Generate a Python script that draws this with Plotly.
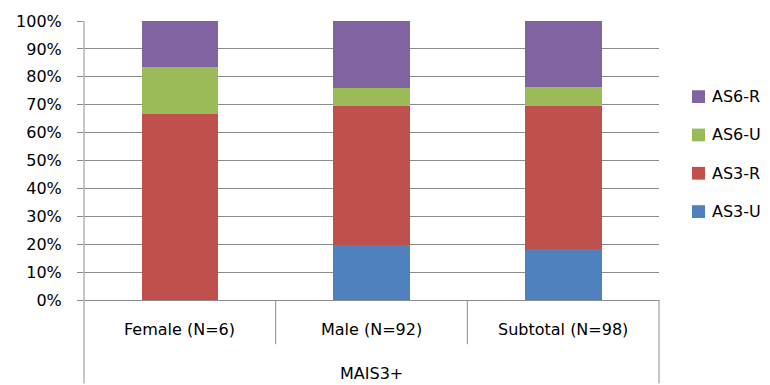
import plotly.graph_objects as go

# Categories and stacked shares (percent of each group)
categories = ["Female (N=6)", "Male (N=92)", "Subtotal (N=98)"]
group_label = "MAIS3+"
series_names = ["AS3-U", "AS3-R", "AS6-U", "AS6-R"]
as3_u = [0.0, 19.6, 18.4]
as3_r = [66.7, 50.0, 51.0]
as6_u = [16.7, 6.5, 7.1]
as6_r = [16.6, 23.9, 23.5]
y_ticks = [0, 10, 20, 30, 40, 50, 60, 70, 80, 90, 100]

colors = ["#4F81BD", "#C0504D", "#9BBB59", "#8064A2"]
FONT = "DejaVu Sans"
FS = 16
GRID = "#8C8C8C"

fig = go.Figure()
for i, (name, vals) in enumerate(zip(series_names, [as3_u, as3_r, as6_u, as6_r])):
    fig.add_trace(go.Bar(
        x=categories, y=vals, name=name,
        marker=dict(color=colors[i], line=dict(width=0)),
        showlegend=False, hoverinfo="skip",
    ))

W, H = 770, 385
L, R, T, B = 84, 111, 16, 85
plot_w = W - L - R
plot_h = H - T - B

def px_x(px):
    # pixel column -> paper x
    return (px - L) / plot_w

def py(px):
    # pixel row -> paper y
    return (H - B - px) / plot_h

shapes = []
line = dict(color=GRID, width=1)
# left frame line running down past the category labels
shapes.append(dict(type="line", xref="paper", yref="paper", x0=0, x1=0,
                   y0=py(H), y1=1, line=line))
# right frame line below the axis
shapes.append(dict(type="line", xref="paper", yref="paper", x0=1, x1=1,
                   y0=py(H), y1=0, line=line))
# separators between inner categories
for k in (1, 2):
    shapes.append(dict(type="line", xref="paper", yref="paper", x0=k / 3, x1=k / 3,
                       y0=py(345), y1=0, line=line))

annotations = []
for k, c in enumerate(categories):
    annotations.append(dict(text=c, xref="paper", yref="paper", x=(k + 0.5) / 3, y=py(330),
                            showarrow=False, font=dict(family=FONT, size=FS, color="#000"),
                            xanchor="center", yanchor="middle"))
annotations.append(dict(text=group_label, xref="paper", yref="paper", x=0.5, y=py(375),
                        showarrow=False, font=dict(family=FONT, size=FS, color="#000"),
                        xanchor="center", yanchor="middle"))

# legend: top entry is the last stacked series
legend_top, legend_step, sw = 93, 39, 13
for row, i in enumerate(reversed(range(len(series_names)))):
    cy = legend_top + row * legend_step
    shapes.append(dict(type="rect", xref="paper", yref="paper",
                       x0=px_x(692), x1=px_x(692 + sw), y0=py(cy + sw / 2), y1=py(cy - sw / 2),
                       fillcolor=colors[i], line=dict(width=0)))
    annotations.append(dict(text=series_names[i], xref="paper", yref="paper",
                            x=px_x(710), y=py(cy), showarrow=False,
                            font=dict(family=FONT, size=FS, color="#000"),
                            xanchor="left", yanchor="middle"))

fig.update_layout(
    width=W, height=H,
    margin=dict(l=L, r=R, t=T, b=B, pad=0),
    barmode="stack", bargap=0.6,
    plot_bgcolor="white", paper_bgcolor="white",
    font=dict(family=FONT, size=FS, color="#000"),
    showlegend=False,
    shapes=shapes, annotations=annotations,
    xaxis=dict(type="category", range=[-0.5, 2.5], showticklabels=False, showgrid=False,
               showline=True, linecolor=GRID, linewidth=1, ticks="", fixedrange=True),
    yaxis=dict(range=[0, 100], tickvals=y_ticks, ticktext=[f"{v}%" for v in y_ticks],
               showgrid=True, gridcolor=GRID, gridwidth=1, zeroline=False,
               showline=False, ticks="outside", ticklen=6, tickcolor=GRID,
               ticklabelstandoff=12, fixedrange=True),
)

fig.write_html("out.html")
